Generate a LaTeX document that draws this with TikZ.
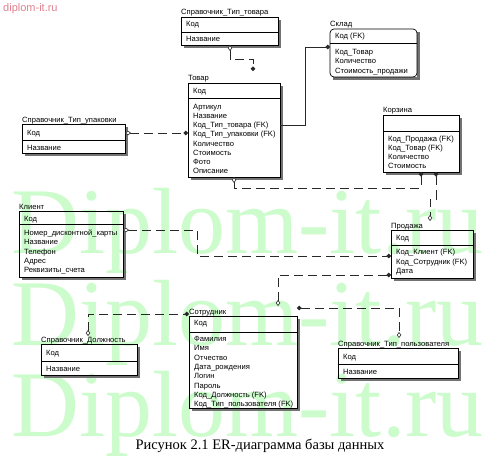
\documentclass[tikz,border=0pt]{standalone}
\usepackage{fontspec}
\setmainfont{Liberation Sans}
\newfontfamily\serifface{Liberation Serif}
\usetikzlibrary{arrows.meta}
\definecolor{wmgreen}{RGB}{204,252,204}
\definecolor{wmpink}{RGB}{225,130,145}
\definecolor{linec}{RGB}{40,40,40}
\tikzset{
  ebox/.style={draw=black, line width=0.7pt, anchor=north west, inner sep=0pt, outer sep=0pt},
  shadeband/.style={fill=black!55},
  ttl/.style={anchor=base west, inner sep=0pt, font=\fontsize{7.6}{8}\selectfont},
  attr/.style={anchor=base west, inner sep=0pt, font=\fontsize{7.6}{8}\selectfont},
  rel/.style={draw=linec, line width=0.7pt},
  nrel/.style={rel, dash pattern=on 9pt off 5pt},
  one/.tip={Diamond[open, length=6pt, width=4.5pt, fill=white, line width=0.6pt]},
  many/.tip={Circle[length=4.5pt]},
  wm/.style={anchor=base west, inner sep=0pt, text=wmgreen, font=\serifface\fontsize{94}{94}\selectfont}
}
\newcommand{\entity}[8]{%
  \fill[shadeband] (#2+3,#6) rectangle (#4+3,#6+3);
  \fill[shadeband] (#4,#3+3) rectangle (#4+3,#6);
  \pgfmathsetmacro\entW{#4-#2}\pgfmathsetmacro\entH{#6-#3}%
  \node[ebox, minimum width=\entW pt, minimum height=\entH pt, #8] (#1) at (#2,#3) {};
  \draw[line width=0.7pt] (#2,#5) -- (#4,#5);
  \node[ttl] (#1-t) at (#2,#3-2) {#7};
}
\newcommand{\attrs}[5]{%
  \foreach \a [count=\i] in {#5} {\node[attr] (#1-a\i) at (#2,{#3+(\i-1)*#4}) {\a};}
}
\begin{document}
\begin{tikzpicture}[x=1pt,y=-1pt]
\useasboundingbox (0,0) rectangle (485,460);
\clip (0,0) rectangle (485,460);
\fill[white] (0,0) rectangle (485,460);
% watermarks
\node[wm] (wm1) at (11,253) {Diplom-it.ru};
\node[wm] (wm2) at (11,345) {Diplom-it.ru};
\node[wm] (wm3) at (11,436) {Diplom-it.ru};
\node[anchor=base west, inner sep=0pt, text=wmpink, font=\fontsize{11}{12}\selectfont] (wm0) at (3,12) {diplom-it.ru};

% entities
\entity{tiptov}{181}{17}{278}{32}{45}{Справочник\_Тип\_товара}{}
\node[attr] (tiptov-k) at (186,26.5) {Код};
\attrs{tiptov}{186}{41.5}{9}{Название}

\entity{sklad}{330}{29}{417}{43}{77}{Склад}{rounded corners=4pt}
\node[attr] (sklad-k) at (335,38.5) {Код (FK)};
\attrs{sklad}{335}{54.5}{9.5}{Код\_Товар, Количество, Стоимость\_продажи}

\entity{tovar}{188}{83}{280}{98}{177}{Товар}{}
\node[attr] (tovar-k) at (193,93.5) {Код};
\attrs{tovar}{193}{109.5}{9.14}{Артикул, Название, {Код\_Тип\_товара (FK)}, {Код\_Тип\_упаковки (FK)}, Количество, Стоимость, Фото, Описание}

\entity{tipup}{22}{124}{125}{140}{153}{Справочник\_Тип\_упаковки}{}
\node[attr] (tipup-k) at (27,135.5) {Код};
\attrs{tipup}{27}{150.5}{9}{Название}

\entity{korz}{383}{115}{459}{131}{172}{Корзина}{}
\attrs{korz}{388}{141.5}{9}{{Код\_Продажа (FK)}, {Код\_Товар (FK)}, Количество, Стоимость}

\entity{klient}{19}{211}{123}{224}{277}{Клиент}{}
\node[attr] (klient-k) at (24,221.5) {Код};
\attrs{klient}{24}{235.5}{9.25}{Номер\_дисконтной\_карты, Название, Телефон, Адрес, Реквизиты\_счета}

\entity{prod}{391}{230}{473}{245}{278}{Продажа}{}
\node[attr] (prod-k) at (396,240.5) {Код};
\attrs{prod}{396}{254.5}{9.5}{{Код\_Клиент (FK)}, {Код\_Сотрудник (FK)}, Дата}

\entity{sotr}{189}{316}{297}{332}{408}{Сотрудник}{}
\node[attr] (sotr-k) at (194,325.5) {Код};
\attrs{sotr}{194}{341.5}{9.3}{Фамилия, Имя, Отчество, Дата\_рождения, Логин, Пароль, {Код\_Должность (FK)}, {Код\_Тип\_пользователя (FK)}}

\entity{tippol}{338}{348}{458}{364}{378}{Справочник\_Тип\_пользователя}{}
\node[attr] (tippol-k) at (343,359.5) {Код};
\attrs{tippol}{343}{374.5}{9}{Название}

\entity{dolzh}{41}{344}{137}{361}{375}{Справочник\_Должность}{}
\node[attr] (dolzh-k) at (46,355.5) {Код};
\attrs{dolzh}{46}{371.5}{9}{Название}

% connector end points
\coordinate (p1s) at (230,45);  \coordinate (p1e) at (253,71);
\coordinate (p2s) at (280,125); \coordinate (p2e) at (330,47);
\coordinate (p3s) at (125,133); \coordinate (p3e) at (188,133);
\coordinate (p4s) at (234,177); \coordinate (p4e) at (421,172);
\coordinate (p5s) at (436,172); \coordinate (p5e) at (430,221);
\coordinate (p6s) at (123,230); \coordinate (p6e) at (391,256);
\coordinate (p7s) at (391,275); \coordinate (p7e) at (278,306);
\coordinate (p8s) at (297,308); \coordinate (p8e) at (399,338);
\coordinate (p9s) at (88,336);  \coordinate (p9e) at (189,314);

\draw[nrel, one-many] (p1s) -- ++(0,14) -| (p1e);
\draw[rel, -many] (p2s) -- ++(25,0) |- (p2e);
\draw[nrel, one-many] (p3s) -- (p3e);
\draw[nrel, one-many] (p4s) -- ++(0,11) -| (p4e);
\draw[nrel, many-one] (p5s) -- ++(0,27) -| (p5e);
\draw[nrel, one-many] (p6s) -- ++(74,0) |- (p6e);
\draw[nrel, many-one] (p7s) -| (p7e);
\draw[nrel, many-one] (p8s) -| (p8e);
\draw[nrel, one-many] (p9s) |- (p9e);

% caption
\node[anchor=base, inner sep=0pt, font=\serifface\fontsize{14.5}{16}\selectfont] (cap) at (260,449) {Рисунок 2.1 ER-диаграмма базы данных};
\end{tikzpicture}
\end{document}
